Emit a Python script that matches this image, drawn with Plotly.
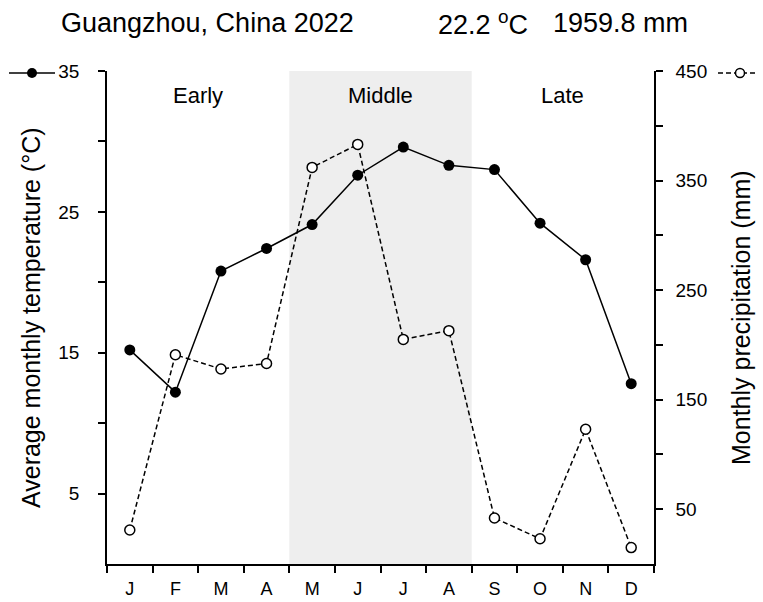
import plotly.graph_objects as go

months = ["J", "F", "M", "A", "M", "J", "J", "A", "S", "O", "N", "D"]
month_num = list(range(1, 13))
temperature = [15.2, 12.2, 20.8, 22.4, 24.1, 27.6, 29.6, 28.3, 28.0, 24.2, 21.6, 12.8]
precipitation = [31, 191, 178, 183, 362, 383, 205, 213, 42, 23, 123, 15]
temp_ticks = [5, 15, 25, 35]
temp_minor = [10, 20, 30]
prec_ticks = [50, 150, 250, 350, 450]
prec_minor = [100, 200, 300, 400]
season_labels = ["Early", "Middle", "Late"]
season_centers = [2.5, 6.5, 10.5]
middle_span = (4.5, 8.5)

W, H = 763, 602
L, R, T, B = 107, 109, 71, 38
PW, PH = W - L - R, H - T - B

def px(x):
    return (x - L) / PW

def py(y):
    return (H - B - y) / PH

FONT = "Arial, Liberation Sans, sans-serif"

fig = go.Figure()
fig.add_trace(go.Scatter(
    x=month_num, y=temperature, mode="lines+markers",
    line=dict(color="black", width=1.5),
    marker=dict(color="black", size=11, line=dict(color="black", width=0)),
    yaxis="y", showlegend=False))
fig.add_trace(go.Scatter(
    x=month_num, y=precipitation, mode="lines+markers",
    line=dict(color="black", width=1.5, dash="5px,3px"),
    marker=dict(color="white", size=10, line=dict(color="black", width=1.5)),
    yaxis="y2", showlegend=False))

fig.add_shape(type="rect", xref="x", yref="paper", x0=middle_span[0], x1=middle_span[1],
              y0=0, y1=1, fillcolor="#eeeeee", line=dict(width=0), layer="below")

for lab, c in zip(season_labels, season_centers):
    fig.add_annotation(x=c, y=py(96), xref="x", yref="paper", text=lab, showarrow=False,
                       font=dict(family=FONT, size=22, color="black"),
                       xanchor="center", yanchor="middle")

# header
fig.add_annotation(x=px(59), y=py(23), xref="paper", yref="paper", text="Guangzhou, China 2022",
                   showarrow=False, xanchor="left", yanchor="middle",
                   font=dict(family=FONT, size=27, color="black"))
fig.add_annotation(x=px(436), y=py(23), xref="paper", yref="paper", text="22.2 <sup>o</sup>C",
                   showarrow=False, xanchor="left", yanchor="middle",
                   font=dict(family=FONT, size=27, color="black"))
fig.add_annotation(x=px(551), y=py(23), xref="paper", yref="paper", text="1959.8 mm",
                   showarrow=False, xanchor="left", yanchor="middle",
                   font=dict(family=FONT, size=27, color="black"))

# axis titles
fig.add_annotation(x=px(31), y=py(318), xref="paper", yref="paper",
                   text="Average monthly temperature (°C)", textangle=-90, showarrow=False,
                   xanchor="center", yanchor="middle", font=dict(family=FONT, size=25, color="black"))
fig.add_annotation(x=px(741), y=py(318), xref="paper", yref="paper",
                   text="Monthly precipitation (mm)", textangle=-90, showarrow=False,
                   xanchor="center", yanchor="middle", font=dict(family=FONT, size=25, color="black"))

# legend key symbols
fig.add_shape(type="line", xref="paper", yref="paper", x0=px(9), x1=px(55), y0=py(73), y1=py(73),
              line=dict(color="black", width=1.5))
fig.add_shape(type="circle", xref="paper", yref="paper", x0=px(27), x1=px(37), y0=py(78), y1=py(68),
              fillcolor="black", line=dict(color="black", width=0))
fig.add_shape(type="line", xref="paper", yref="paper", x0=px(718), x1=px(757), y0=py(73), y1=py(73),
              line=dict(color="black", width=1.5, dash="5px,3px"))
fig.add_shape(type="circle", xref="paper", yref="paper", x0=px(735.5), x1=px(744.5), y0=py(77.5), y1=py(68.5),
              fillcolor="white", line=dict(color="black", width=1.5))

fig.update_layout(
    width=W, height=H,
    margin=dict(l=L, r=R, t=T, b=B, autoexpand=False),
    paper_bgcolor="white", plot_bgcolor="white",
    font=dict(family=FONT, size=19, color="black"),
    xaxis=dict(range=[0.5, 12.5], tickmode="array", tickvals=month_num, ticktext=months,
               ticks="", showline=True, linecolor="black", linewidth=1.5, showgrid=False,
               zeroline=False, tickfont=dict(size=18), ticklabelstandoff=8, automargin=False,
               minor=dict(tickmode="array", tickvals=[m - 0.5 for m in month_num] + [12.5],
                          ticks="outside", ticklen=7, tickwidth=1.5, tickcolor="black",
                          showgrid=False)),
    yaxis=dict(range=[0, 35], tickmode="array", tickvals=temp_ticks, ticks="outside",
               ticklen=7, tickwidth=1.5, tickcolor="black", showline=True, linecolor="black",
               linewidth=1.5, showgrid=False, zeroline=False, tickfont=dict(size=19),
               ticklabelstandoff=15, automargin=False,
               minor=dict(tickmode="array", tickvals=temp_minor, ticks="outside", ticklen=7,
                          tickwidth=1.5, tickcolor="black", showgrid=False)),
    yaxis2=dict(range=[0, 450], overlaying="y", side="right", tickmode="array",
                tickvals=prec_ticks, ticks="outside", ticklen=7, tickwidth=1.5, tickcolor="black",
                showline=True, linecolor="black", linewidth=1.5, showgrid=False, zeroline=False,
                tickfont=dict(size=19), ticklabelstandoff=9, automargin=False,
                minor=dict(tickmode="array", tickvals=prec_minor, ticks="outside", ticklen=7,
                           tickwidth=1.5, tickcolor="black", showgrid=False)),
)

fig.write_html("out.html", post_script="document.body.style.margin='0';",
               config={"displayModeBar": False})
